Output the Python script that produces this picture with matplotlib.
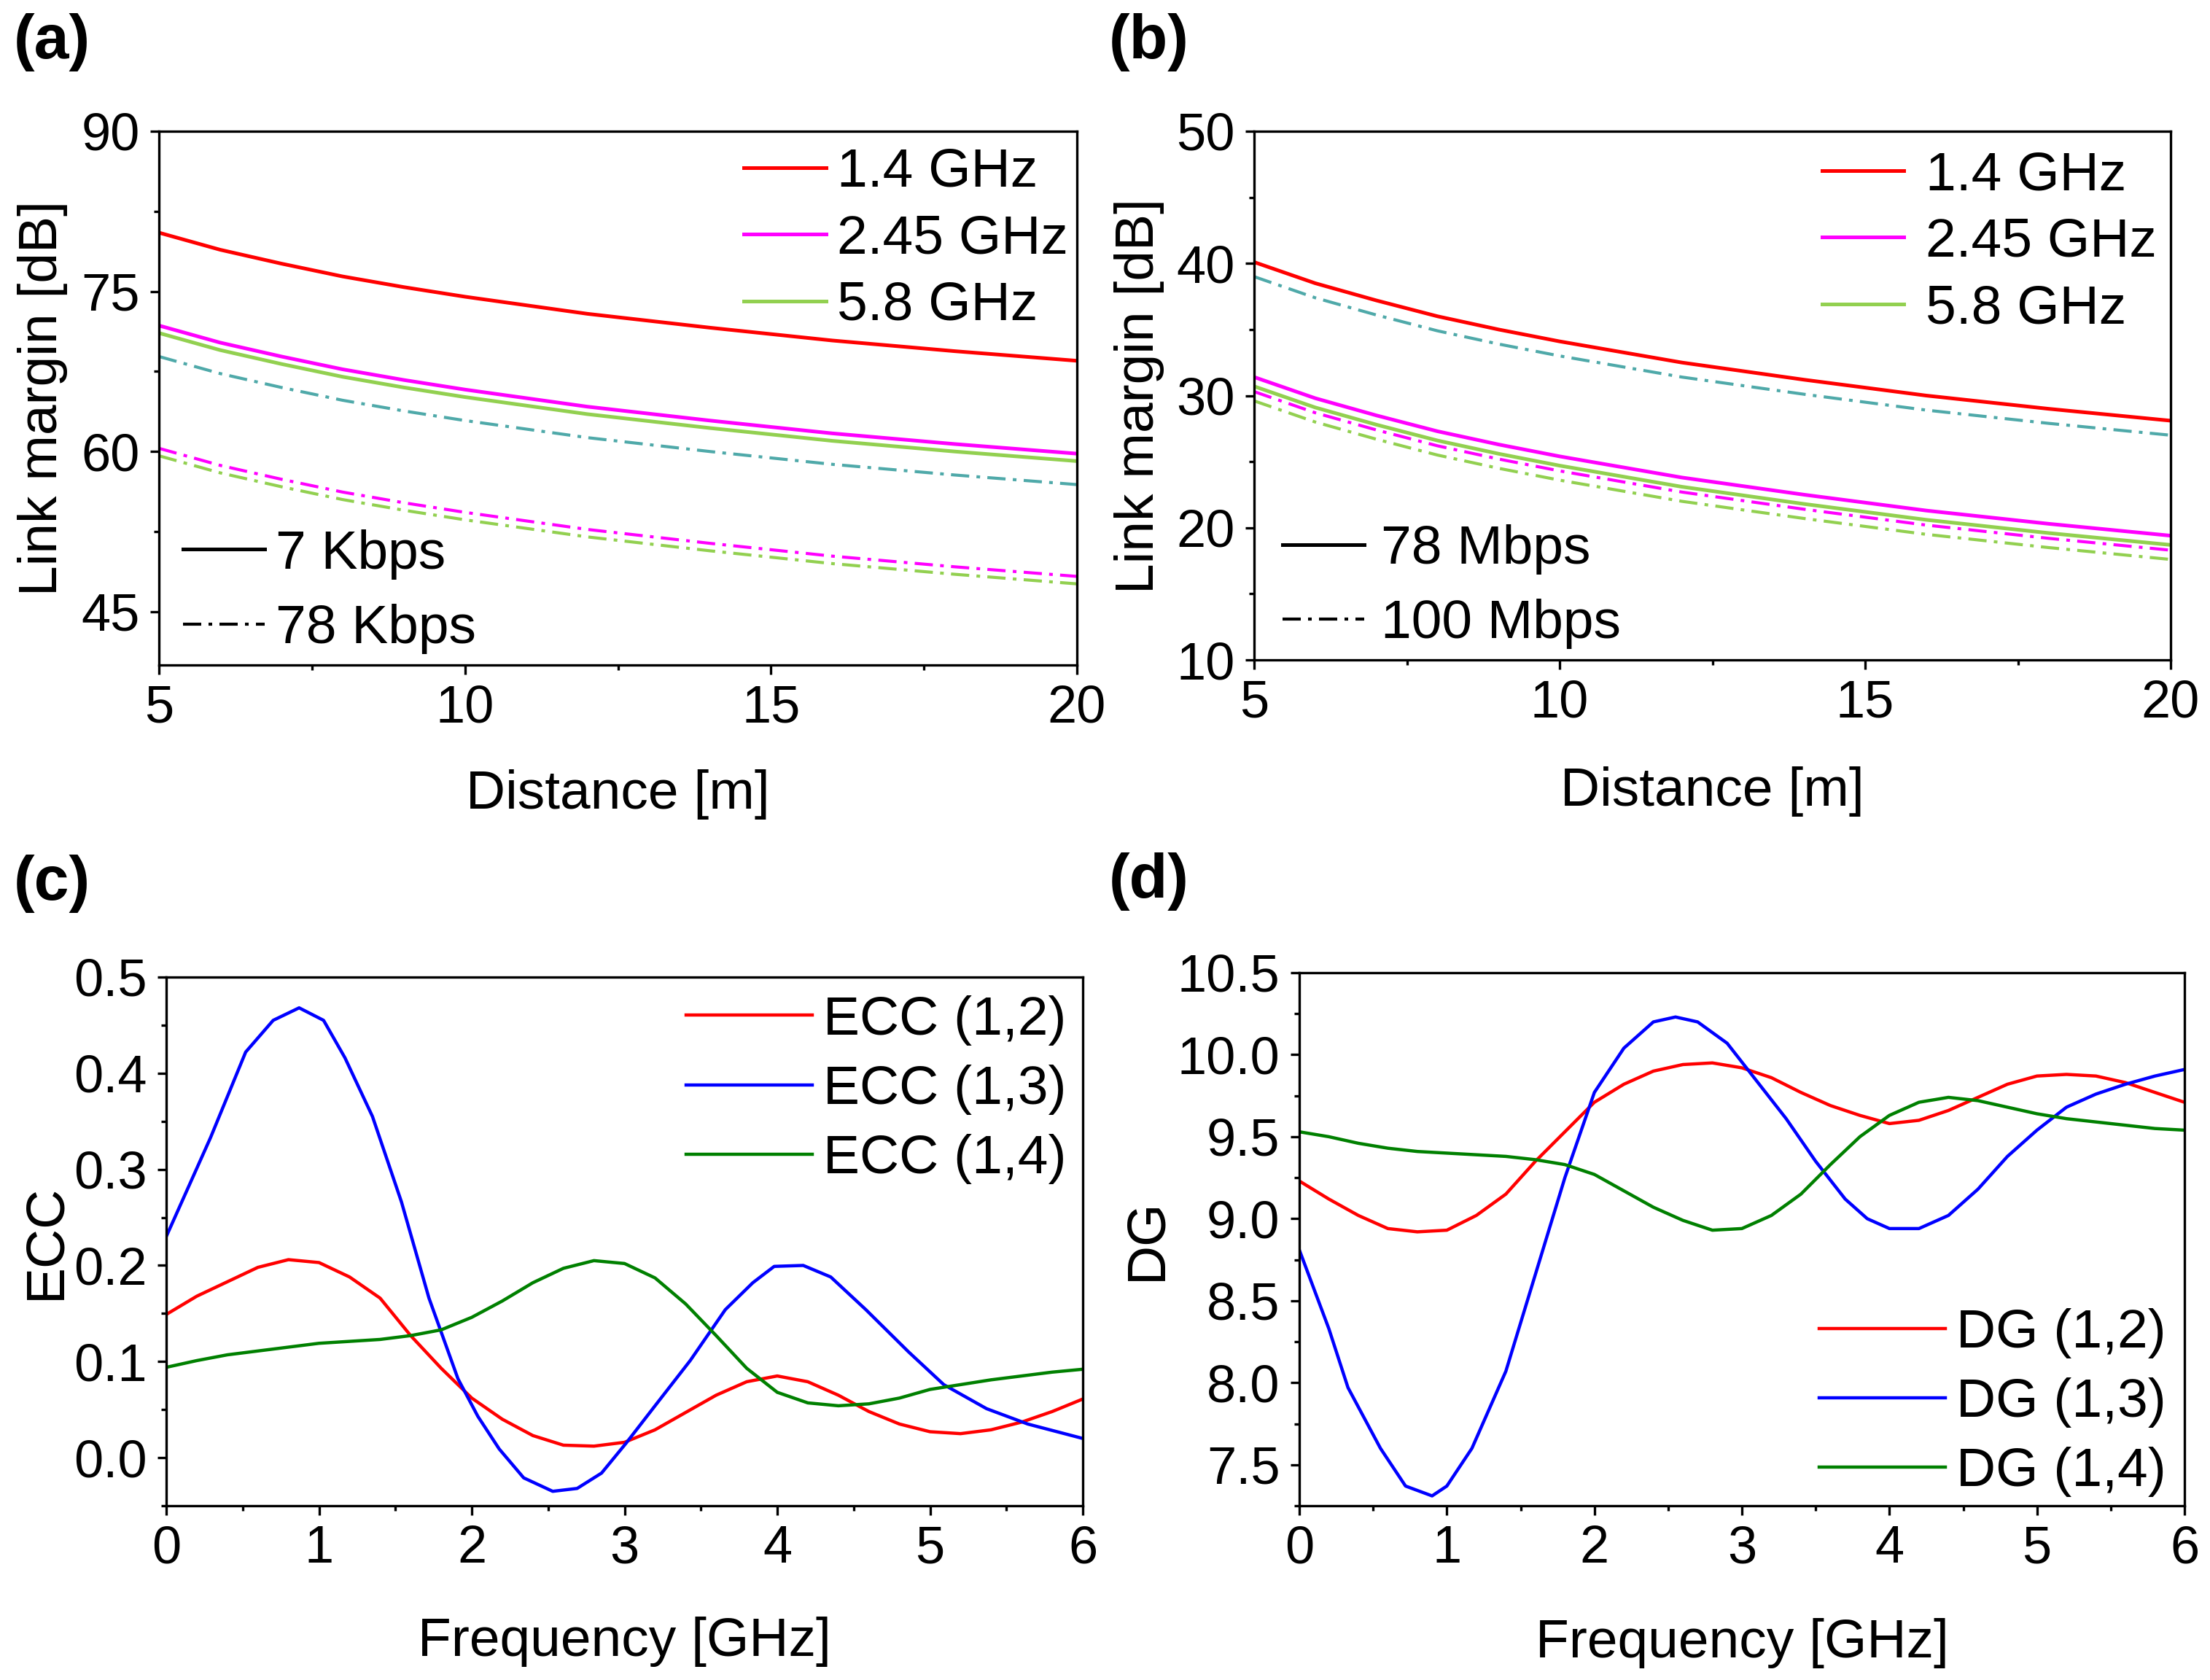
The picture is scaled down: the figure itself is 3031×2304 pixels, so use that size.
import matplotlib
matplotlib.use('Agg')
import matplotlib.pyplot as plt
from matplotlib.lines import Line2D
from matplotlib.ticker import MultipleLocator, FormatStrFormatter

plt.rcParams['font.family'] = ['Liberation Sans', 'DejaVu Sans']

# ---------------- data ----------------
# (a), (b): link margin vs distance
dist = [5, 6, 7, 8, 9, 10, 12, 14, 16, 18, 20]

a_14_7k = [80.5, 78.9, 77.6, 76.4, 75.4, 74.5, 72.9, 71.6, 70.4, 69.4, 68.5]
a_245_7k = [71.8, 70.2, 68.9, 67.7, 66.7, 65.8, 64.2, 62.9, 61.7, 60.7, 59.8]
a_58_7k = [71.1, 69.5, 68.2, 67.0, 66.0, 65.1, 63.5, 62.2, 61.0, 60.0, 59.1]
a_14_78k = [68.9, 67.3, 66.0, 64.8, 63.8, 62.9, 61.3, 60.0, 58.8, 57.8, 56.9]
a_245_78k = [60.3, 58.7, 57.4, 56.2, 55.2, 54.3, 52.7, 51.4, 50.2, 49.2, 48.3]
a_58_78k = [59.6, 58.0, 56.7, 55.5, 54.5, 53.6, 52.0, 50.7, 49.5, 48.5, 47.6]

b_14_78m = [40.1, 38.5, 37.2, 36.0, 35.0, 34.1, 32.5, 31.2, 30.0, 29.0, 28.1]
b_245_78m = [31.4, 29.8, 28.5, 27.3, 26.3, 25.4, 23.8, 22.5, 21.3, 20.3, 19.4]
b_58_78m = [30.7, 29.1, 27.8, 26.6, 25.6, 24.7, 23.1, 21.8, 20.6, 19.6, 18.7]
b_14_100m = [39.0, 37.4, 36.1, 34.9, 33.9, 33.0, 31.4, 30.1, 28.9, 27.9, 27.0]
b_245_100m = [30.3, 28.7, 27.4, 26.2, 25.2, 24.3, 22.7, 21.4, 20.2, 19.2, 18.3]
b_58_100m = [29.6, 28.0, 26.7, 25.5, 24.5, 23.6, 22.0, 20.7, 19.5, 18.5, 17.6]

freq_labels = ['1.4 GHz', '2.45 GHz', '5.8 GHz']

# (c), (d): ECC and DG vs frequency
freq = [0.0, 0.2, 0.4, 0.6, 0.8, 1.0, 1.2, 1.4, 1.6, 1.8, 2.0, 2.2, 2.4, 2.6, 2.8, 3.0,
        3.2, 3.4, 3.6, 3.8, 4.0, 4.2, 4.4, 4.6, 4.8, 5.0, 5.2, 5.4, 5.6, 5.8, 6.0]

ecc12 = [0.149, 0.168, 0.183, 0.198, 0.206, 0.203, 0.188, 0.166, 0.127, 0.093, 0.062,
         0.040, 0.023, 0.013, 0.012, 0.016, 0.029, 0.047, 0.065, 0.079, 0.085, 0.079,
         0.065, 0.048, 0.035, 0.027, 0.025, 0.029, 0.037, 0.048, 0.061]
ecc14 = [0.094, 0.101, 0.107, 0.111, 0.115, 0.119, 0.121, 0.123, 0.127, 0.133, 0.146,
         0.163, 0.182, 0.197, 0.205, 0.202, 0.187, 0.160, 0.127, 0.093, 0.068, 0.057,
         0.054, 0.056, 0.062, 0.071, 0.076, 0.081, 0.085, 0.089, 0.092]
ecc13_f = [0, 0.29, 0.52, 0.7, 0.87, 1.03, 1.17, 1.35, 1.54, 1.72, 1.91, 2.04, 2.18, 2.34,
           2.53, 2.69, 2.85, 3.01, 3.2, 3.43, 3.66, 3.84, 3.98, 4.17, 4.35, 4.58, 4.86,
           5.09, 5.37, 5.64, 6.0]
ecc13 = [0.23, 0.333, 0.422, 0.455, 0.468, 0.455, 0.416, 0.355, 0.266, 0.166, 0.082,
         0.043, 0.009, -0.021, -0.035, -0.032, -0.016, 0.015, 0.054, 0.101, 0.154, 0.182,
         0.199, 0.2, 0.188, 0.154, 0.11, 0.076, 0.051, 0.035, 0.02]

dg12 = [9.23, 9.12, 9.02, 8.94, 8.92, 8.93, 9.02, 9.15, 9.35, 9.53, 9.71, 9.82, 9.90,
        9.94, 9.95, 9.92, 9.86, 9.77, 9.69, 9.63, 9.58, 9.60, 9.66, 9.74, 9.82, 9.87,
        9.88, 9.87, 9.83, 9.77, 9.71]
dg14 = [9.53, 9.50, 9.46, 9.43, 9.41, 9.40, 9.39, 9.38, 9.36, 9.33, 9.27, 9.17, 9.07,
        8.99, 8.93, 8.94, 9.02, 9.15, 9.33, 9.50, 9.63, 9.71, 9.74, 9.72, 9.68, 9.64,
        9.61, 9.59, 9.57, 9.55, 9.54]
dg13_f = [0, 0.2, 0.33, 0.55, 0.72, 0.9, 1.0, 1.17, 1.4, 1.6, 1.8, 2.0, 2.2, 2.4, 2.55,
          2.7, 2.9, 3.1, 3.3, 3.5, 3.7, 3.85, 4.0, 4.2, 4.4, 4.6, 4.8, 5.0, 5.2, 5.4, 5.6,
          5.8, 6.0]
dg13 = [8.81, 8.33, 7.97, 7.60, 7.37, 7.31, 7.37, 7.60, 8.07, 8.66, 9.25, 9.77, 10.04,
        10.20, 10.23, 10.20, 10.07, 9.84, 9.61, 9.35, 9.12, 9.00, 8.94, 8.94, 9.02, 9.18,
        9.38, 9.54, 9.68, 9.76, 9.82, 9.87, 9.91]

RED = '#ff0000'
MAG = '#ff00ff'
LGREEN = '#92d050'
TEAL = '#4fa9a9'
BLUE = '#0000ff'
DGREEN = '#008000'
DD = (6, 2.4, 1.2, 2.4)

TICK_FS = 26
LAB_FS = 27

fig = plt.figure(figsize=(15.155, 11.52), dpi=200)
W, H = 3031.0, 2304.0


def make_ax(l, r, t, b):
    return fig.add_axes([l / W, 1 - b / H, (r - l) / W, (b - t) / H])


def style(ax):
    for s in ax.spines.values():
        s.set_linewidth(1.2)
    ax.tick_params(which='both', direction='out', top=False, right=False,
                   labelsize=TICK_FS, width=1.2, pad=5)
    ax.tick_params(which='major', length=4.5)
    ax.tick_params(which='minor', length=2.5)


axa = make_ax(218, 1477, 180, 912)
axb = make_ax(1720, 2977, 180, 905)
axc = make_ax(228, 1485, 1340, 2065)
axd = make_ax(1782, 2996, 1334, 2065)

# ---- (a) ----
la1, = axa.plot(dist, a_14_7k, color=RED, lw=1.8)
la2, = axa.plot(dist, a_245_7k, color=MAG, lw=1.8)
la3, = axa.plot(dist, a_58_7k, color=LGREEN, lw=1.8)
axa.plot(dist, a_14_78k, color=TEAL, lw=1.5, dashes=DD)
axa.plot(dist, a_245_78k, color=MAG, lw=1.5, dashes=DD)
axa.plot(dist, a_58_78k, color=LGREEN, lw=1.5, dashes=DD)
axa.set_xlim(5, 20)
axa.set_ylim(40, 90)
axa.xaxis.set_major_locator(MultipleLocator(5))
axa.xaxis.set_minor_locator(MultipleLocator(2.5))
axa.yaxis.set_major_locator(MultipleLocator(15))
axa.yaxis.set_minor_locator(MultipleLocator(7.5))
style(axa)
axa.set_xlabel('Distance [m]', fontsize=LAB_FS)
axa.set_ylabel('Link margin [dB]', fontsize=LAB_FS)
axa.xaxis.set_label_coords(0.5, -0.195)
axa.yaxis.set_label_coords(-0.099, 0.5)
leg = axa.legend([la1, la2, la3], freq_labels, loc='upper right',
                 bbox_to_anchor=(0.99, 0.97), frameon=False, fontsize=LAB_FS,
                 handlelength=1.5, handletextpad=0.2, labelspacing=0.3,
                 borderpad=0, borderaxespad=0)
axa.add_artist(leg)
axa.legend([Line2D([], [], color='k', lw=1.8), Line2D([], [], color='k', lw=1.5, dashes=DD)],
           ['7 Kbps', '78 Kbps'], loc='lower left', bbox_to_anchor=(0.026, 0.02),
           frameon=False, fontsize=LAB_FS, handlelength=1.5, handletextpad=0.2,
           labelspacing=0.45, borderpad=0, borderaxespad=0)

# ---- (b) ----
lb1, = axb.plot(dist, b_14_78m, color=RED, lw=1.8)
lb2, = axb.plot(dist, b_245_78m, color=MAG, lw=1.8)
lb3, = axb.plot(dist, b_58_78m, color=LGREEN, lw=1.8)
axb.plot(dist, b_14_100m, color=TEAL, lw=1.5, dashes=DD)
axb.plot(dist, b_245_100m, color=MAG, lw=1.5, dashes=DD)
axb.plot(dist, b_58_100m, color=LGREEN, lw=1.5, dashes=DD)
axb.set_xlim(5, 20)
axb.set_ylim(10, 50)
axb.xaxis.set_major_locator(MultipleLocator(5))
axb.xaxis.set_minor_locator(MultipleLocator(2.5))
axb.yaxis.set_major_locator(MultipleLocator(10))
axb.yaxis.set_minor_locator(MultipleLocator(5))
style(axb)
axb.set_xlabel('Distance [m]', fontsize=LAB_FS)
axb.set_ylabel('Link margin [dB]', fontsize=LAB_FS)
axb.xaxis.set_label_coords(0.5, -0.201)
axb.yaxis.set_label_coords(-0.098, 0.5)
leg = axb.legend([lb1, lb2, lb3], freq_labels, loc='upper right',
                 bbox_to_anchor=(0.985, 0.964), frameon=False, fontsize=LAB_FS,
                 handlelength=1.5, handletextpad=0.4, labelspacing=0.3,
                 borderpad=0, borderaxespad=0)
axb.add_artist(leg)
axb.legend([Line2D([], [], color='k', lw=1.8), Line2D([], [], color='k', lw=1.5, dashes=DD)],
           ['78 Mbps', '100 Mbps'], loc='lower left', bbox_to_anchor=(0.031, 0.02),
           frameon=False, fontsize=LAB_FS, handlelength=1.5, handletextpad=0.3,
           labelspacing=0.45, borderpad=0, borderaxespad=0)

# ---- (c) ----
axc.plot(freq, ecc12, color=RED, lw=1.6, label='ECC (1,2)')
axc.plot(ecc13_f, ecc13, color=BLUE, lw=1.6, label='ECC (1,3)')
axc.plot(freq, ecc14, color=DGREEN, lw=1.6, label='ECC (1,4)')
axc.set_xlim(0, 6)
axc.set_ylim(-0.05, 0.5)
axc.xaxis.set_major_locator(MultipleLocator(1))
axc.xaxis.set_minor_locator(MultipleLocator(0.5))
axc.yaxis.set_major_locator(MultipleLocator(0.1))
axc.yaxis.set_minor_locator(MultipleLocator(0.05))
axc.yaxis.set_major_formatter(FormatStrFormatter('%.1f'))
style(axc)
axc.set_xlabel('Frequency [GHz]', fontsize=LAB_FS)
axc.set_ylabel('ECC', fontsize=LAB_FS)
axc.xaxis.set_label_coords(0.5, -0.21)
axc.yaxis.set_label_coords(-0.104, 0.5)
axc.legend(loc='upper right', bbox_to_anchor=(0.982, 0.966), frameon=False,
           fontsize=LAB_FS, handlelength=2.3, handletextpad=0.2, labelspacing=0.35,
           borderpad=0, borderaxespad=0)

# ---- (d) ----
axd.plot(freq, dg12, color=RED, lw=1.6, label='DG (1,2)')
axd.plot(dg13_f, dg13, color=BLUE, lw=1.6, label='DG (1,3)')
axd.plot(freq, dg14, color=DGREEN, lw=1.6, label='DG (1,4)')
axd.set_xlim(0, 6)
axd.set_ylim(7.25, 10.5)
axd.xaxis.set_major_locator(MultipleLocator(1))
axd.xaxis.set_minor_locator(MultipleLocator(0.5))
axd.yaxis.set_major_locator(MultipleLocator(0.5))
axd.yaxis.set_minor_locator(MultipleLocator(0.25))
axd.yaxis.set_major_formatter(FormatStrFormatter('%.1f'))
style(axd)
axd.set_xlabel('Frequency [GHz]', fontsize=LAB_FS)
axd.set_ylabel('DG', fontsize=LAB_FS)
axd.xaxis.set_label_coords(0.5, -0.21)
axd.yaxis.set_label_coords(-0.144, 0.5)
axd.legend(loc='lower right', bbox_to_anchor=(0.979, 0.016), frameon=False,
           fontsize=LAB_FS, handlelength=2.3, handletextpad=0.2, labelspacing=0.35,
           borderpad=0, borderaxespad=0)

# panel letters
for x, y, s in [(19, 18, '(a)'), (1521, 18, '(b)'), (19, 1172, '(c)'), (1521, 1169, '(d)')]:
    fig.text(x / W, 1 - y / H, s, fontsize=31, fontweight='bold', ha='left', va='top')

fig.savefig('out.png', dpi=200)
